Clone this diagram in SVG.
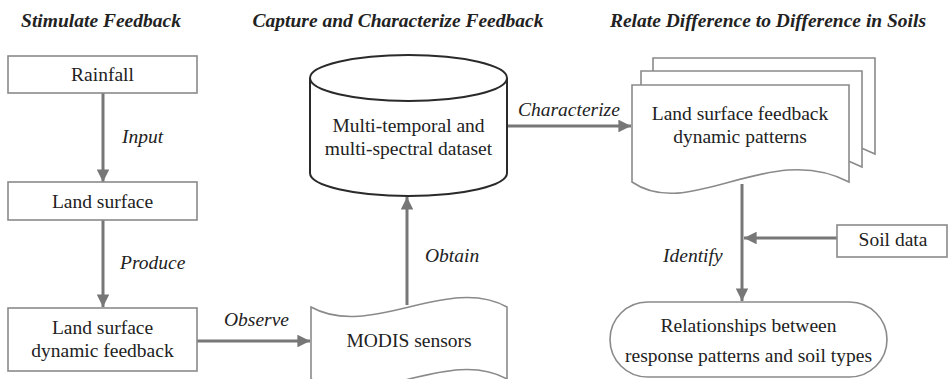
<svg xmlns="http://www.w3.org/2000/svg" width="948" height="379" viewBox="0 0 948 379">
<defs>
<style>
.bg{fill:#ffffff}
.box{fill:#ffffff;stroke:#8a8a8a;stroke-width:1.6}
.dark{fill:#ffffff;stroke:#2a2a2a;stroke-width:2}
.t{font-family:"Liberation Serif","Times New Roman",serif;font-size:19.5px;fill:#222;text-anchor:middle}
.lbl{font-family:"Liberation Serif","Times New Roman",serif;font-size:19.5px;fill:#222;font-style:italic}
.title{font-family:"Liberation Serif","Times New Roman",serif;font-size:19.5px;fill:#222;font-style:italic;font-weight:bold;text-anchor:middle}
.c{fill:none;stroke:#777;stroke-width:3}
</style>
<marker id="ah" viewBox="0 0 10 10" refX="10" refY="5" markerWidth="4.2" markerHeight="4.2" markerUnits="strokeWidth" orient="auto">
<path d="M0,0 L10,5 L0,10 Z" fill="#777"/>
</marker>
</defs>
<rect class="bg" x="0" y="0" width="948" height="379"/>
<g id="titles">
<text class="title" x="101" y="27">Stimulate Feedback</text>
<text class="title" x="398" y="27">Capture and Characterize Feedback</text>
<text class="title" x="768" y="27">Relate Difference to Difference in Soils</text>
</g>
<g id="connectors">
<line class="c" x1="103" y1="93" x2="103" y2="182" marker-end="url(#ah)"/>
<line class="c" x1="103" y1="220" x2="103" y2="307" marker-end="url(#ah)"/>
<line class="c" x1="197" y1="341" x2="310" y2="341" marker-end="url(#ah)"/>
<line class="c" x1="407" y1="305" x2="407" y2="197" marker-end="url(#ah)"/>
<line class="c" x1="507" y1="126" x2="631" y2="126" marker-end="url(#ah)"/>
<line class="c" x1="742" y1="184" x2="742" y2="301" marker-end="url(#ah)"/>
<line class="c" x1="837" y1="238" x2="744" y2="238" marker-end="url(#ah)"/>
<text class="lbl" x="122" y="143">Input</text>
<text class="lbl" x="120" y="269">Produce</text>
<text class="lbl" x="224" y="326">Observe</text>
<text class="lbl" x="425" y="262">Obtain</text>
<text class="lbl" x="518" y="116">Characterize</text>
<text class="lbl" x="663" y="262">Identify</text>
</g>
<g id="rainfall">
<rect class="box" x="8" y="56" width="189" height="37"/>
<text class="t" x="102.5" y="81">Rainfall</text>
</g>
<g id="land-surface">
<rect class="box" x="8" y="182" width="189" height="38"/>
<text class="t" x="102.5" y="208">Land surface</text>
</g>
<g id="land-surface-dynamic-feedback">
<rect class="box" x="8" y="308" width="189" height="63"/>
<text class="t" x="102.5" y="334">Land surface</text>
<text class="t" x="102.5" y="357">dynamic feedback</text>
</g>
<g id="dataset">
<path class="dark" d="M310,78 V173 A98.5,23 0 0 0 507,173 V78 A98.5,23 0 0 0 310,78 Z"/>
<path class="dark" d="M310,78 A98.5,23 0 0 0 507,78" fill="none"/>
<text class="t" x="408.5" y="132">Multi-temporal and</text>
<text class="t" x="408.5" y="155">multi-spectral dataset</text>
</g>
<g id="modis-sensors">
<path class="box" d="M311,307 C370,340 448,274 507,307 V379 C448,346 370,412 311,379 Z"/>
<text class="t" x="409" y="347">MODIS sensors</text>
</g>
<g id="patterns">
<path class="box" d="M653,58 H875 V154 C796,112 711,194 653,154 Z"/>
<path class="box" d="M641,71 H862 V167 C783,125 699,207 641,167 Z"/>
<path class="box" d="M632,85 H849 V182 C770,140 690,222 632,182 Z"/>
<text class="t" x="740" y="120">Land surface feedback</text>
<text class="t" x="740" y="143">dynamic patterns</text>
</g>
<g id="soil-data">
<rect class="box" x="837" y="225" width="110" height="32"/>
<text class="t" x="893" y="246">Soil data</text>
</g>
<g id="relationships">
<rect class="box" x="610" y="302" width="277" height="75" rx="37.5" ry="37.5"/>
<text class="t" x="748.5" y="332">Relationships between</text>
<text class="t" x="748.5" y="362">response patterns and soil types</text>
</g>
</svg>
